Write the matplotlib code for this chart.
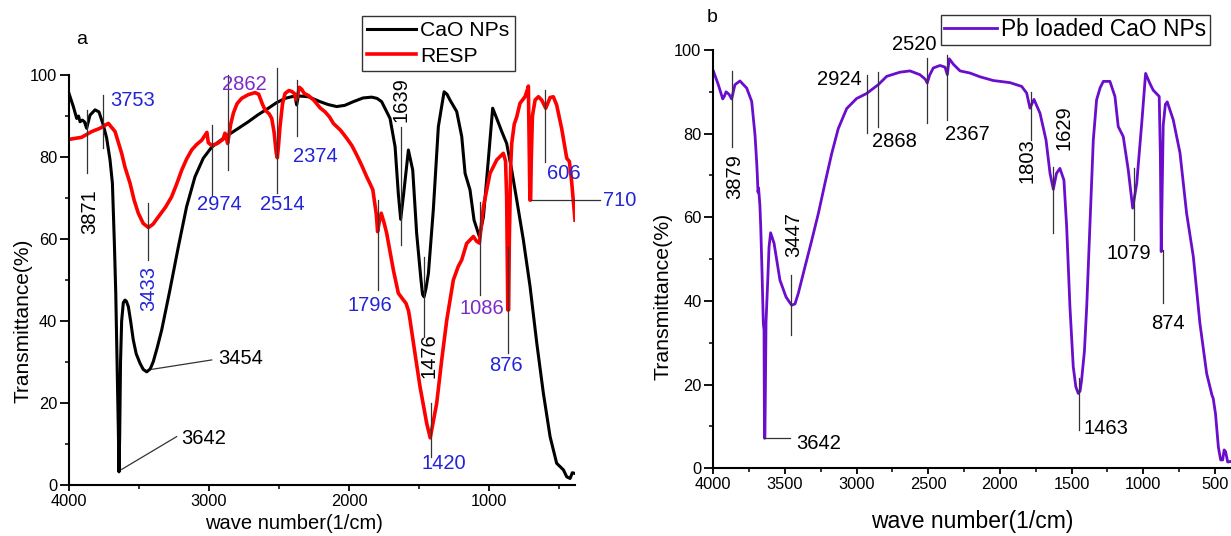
import matplotlib
matplotlib.use("Agg")
import matplotlib.pyplot as plt
from matplotlib.ticker import MultipleLocator, FixedLocator

plt.rcParams['font.family'] = ['Liberation Sans', 'DejaVu Sans']

# ---------------- data: panel a ----------------
w_cao = [4000, 3969, 3945, 3932, 3921, 3905, 3890, 3874, 3850, 3814, 3786, 3755, 3731, 3707,
         3690, 3676, 3666, 3657, 3648, 3643, 3638, 3632, 3624, 3612, 3600, 3590, 3576, 3560,
         3541, 3520, 3493, 3470, 3445, 3420, 3398, 3370, 3338, 3279, 3219, 3160, 3100, 3041,
         2981, 2920, 2862, 2790, 2719, 2650, 2576, 2520, 2457, 2386, 2374, 2362, 2290, 2207,
         2150, 2088, 2030, 1969, 1900, 1838, 1800, 1767, 1707, 1671, 1648, 1631, 1610, 1576,
         1545, 1517, 1486, 1475, 1464, 1450, 1433, 1398, 1362, 1340, 1321, 1300, 1279, 1231,
         1195, 1171, 1136, 1107, 1069, 1040, 1005, 974, 945, 909, 874, 838, 802, 755, 707, 659,
         612, 564, 517, 469, 445, 421, 405, 386]
t_cao = [95.5, 92.3, 89.4, 90.0, 88.6, 89.0, 88.6, 87.0, 90.2, 91.5, 91.0, 87.8, 84.6, 79.3,
         73.6, 59.0, 46.8, 30.5, 14.2, 3.2, 12.0, 30.0, 40.0, 44.5, 45.1, 44.8, 43.5, 40.0,
         35.4, 32.0, 29.7, 28.2, 27.6, 28.3, 30.1, 33.5, 37.8, 47.6, 58.1, 67.9, 75.2, 79.7,
         82.4, 84.0, 85.4, 87.0, 88.6, 90.3, 91.9, 93.2, 94.3, 94.9, 92.7, 94.9, 94.7, 93.5,
         92.8, 92.3, 92.6, 93.5, 94.4, 94.6, 94.3, 93.5, 89.4, 82.5, 71.1, 64.8, 71.0, 81.7,
         76.8, 61.4, 50.0, 46.5, 45.9, 48.0, 51.6, 67.1, 87.4, 92.0, 95.9, 95.3, 93.9, 91.1,
         85.0, 76.0, 72.0, 64.6, 60.6, 65.4, 79.3, 91.9, 89.4, 86.2, 83.3, 76.8, 69.5, 59.8, 48.4, 34.6,
         22.4, 11.8, 5.3, 3.7, 2.0, 1.6, 3.0, 2.8]

w_resp = [4000, 3910, 3838, 3779, 3719, 3671, 3624, 3600, 3564, 3535, 3505, 3470, 3433, 3400,
          3362, 3310, 3267, 3230, 3195, 3160, 3124, 3090, 3052, 3015, 3005, 2981, 2940, 2900,
          2886, 2875, 2867, 2845, 2826, 2800, 2767, 2720, 2671, 2645, 2620, 2600, 2570, 2552,
          2535, 2520, 2512, 2503, 2493, 2475, 2457, 2430, 2410, 2390, 2380, 2370, 2355, 2338,
          2320, 2290, 2250, 2207, 2171, 2140, 2112, 2060, 2017, 1980, 1945, 1910, 1874, 1850,
          1830, 1805, 1796, 1785, 1770, 1750, 1731, 1683, 1648, 1620, 1593, 1575, 1564, 1529,
          1493, 1445, 1420, 1374, 1338, 1302, 1255, 1220, 1195, 1160, 1112, 1090, 1069, 1040,
          993, 945, 898, 882, 874, 866, 860, 855, 845, 838, 820, 802, 779, 743, 725, 719, 714,
          708, 703, 698, 690, 671, 647, 624, 595, 564, 541, 517, 481, 445, 426, 410, 386]
t_resp = [84.3, 84.8, 86.2, 87.0, 88.2, 86.2, 80.9, 77.5, 73.6, 69.5, 66.3, 63.8, 62.8, 63.6,
          65.4, 67.8, 70.3, 73.5, 76.8, 79.5, 81.7, 83.0, 84.1, 86.0, 83.5, 82.8, 83.3, 84.3,
          85.8, 84.5, 83.3, 88.0, 90.7, 93.0, 94.3, 95.2, 95.7, 95.3, 93.0, 91.5, 90.5, 89.4,
          86.0, 81.0, 79.8, 83.0, 87.4, 93.0, 95.5, 96.2, 96.0, 95.5, 94.0, 94.5, 97.0, 96.5,
          95.5, 95.0, 93.8, 92.0, 91.0, 89.8, 88.2, 86.5, 84.6, 82.8, 80.5, 78.0, 75.2, 73.5,
          72.0, 66.0, 61.8, 64.0, 66.3, 64.0, 61.4, 52.4, 46.8, 45.5, 44.3, 42.5, 40.2, 32.1,
          24.0, 15.0, 11.5, 19.9, 30.5, 40.2, 50.0, 53.3, 54.9, 58.9, 60.6, 59.5, 59.0, 67.9,
          76.0, 79.3, 80.9, 79.0, 70.0, 42.7, 42.7, 60.0, 78.0, 83.3, 88.0, 89.8, 93.1, 94.7, 96.5, 97.3,
          85.0, 69.5, 69.5, 80.0, 90.0, 93.9, 94.7, 93.9, 91.9, 94.5, 94.7, 92.7, 86.9, 79.7,
          78.9, 74.0, 64.6]

# ---------------- data: panel b ----------------
w_pb = [4000, 3965, 3934, 3922, 3911, 3890, 3872, 3849, 3814, 3767, 3732, 3709, 3697, 3693,
        3688, 3684, 3675, 3669, 3660, 3651, 3646, 3643, 3640, 3637, 3632, 3620, 3611, 3600,
        3576, 3535, 3493, 3470, 3453, 3430, 3407, 3360, 3313, 3267, 3221, 3174, 3128, 3069,
        3000, 2930, 2884, 2849, 2790, 2697, 2627, 2558, 2520, 2507, 2490, 2465, 2418, 2383,
        2367, 2353, 2325, 2278, 2209, 2139, 2046, 1930, 1848, 1813, 1790, 1762, 1720, 1678,
        1650, 1627, 1605, 1581, 1553, 1534, 1511, 1488, 1470, 1453, 1440, 1430, 1410, 1394,
        1371, 1348, 1325, 1300, 1278, 1232, 1197, 1174, 1139, 1104, 1073, 1045, 1010, 983, 953,
        930, 888, 880, 874, 868, 860, 845, 832, 790, 743, 697, 650, 604, 557, 520, 511, 495,
        475, 459, 445, 435, 425, 410, 394]
t_pb = [95.0, 91.7, 88.3, 89.0, 90.0, 89.4, 88.3, 91.7, 92.6, 90.9, 87.7, 79.7, 73.0, 70.2,
        66.0, 67.0, 63.0, 57.8, 47.0, 34.7, 33.0, 7.2, 7.2, 17.0, 35.0, 45.0, 52.9, 56.3,
        53.8, 45.0, 41.0, 39.8, 39.0, 39.3, 41.8, 48.2, 54.5, 60.9, 68.1, 75.2, 81.2, 86.0,
        88.4, 89.6, 90.8, 91.7, 93.7, 94.7, 95.0, 94.1, 93.0, 92.1, 94.0, 95.7, 96.3, 95.9,
        94.1, 97.9, 96.6, 95.0, 94.5, 93.6, 92.7, 92.2, 91.3, 89.7, 86.1, 88.2, 84.9, 78.5,
        70.5, 66.7, 70.5, 71.7, 68.9, 57.8, 38.6, 24.3, 19.5, 17.9, 18.5, 21.0, 28.0, 38.6,
        58.6, 78.5, 88.1, 91.0, 92.5, 92.5, 88.9, 81.7, 79.3, 71.3, 62.2, 68.1, 82.5, 94.4, 92.0,
        90.4, 88.9, 75.0, 51.8, 65.0, 82.0, 87.0, 87.6, 83.3, 75.4, 61.0, 50.6, 34.7, 22.7, 17.5, 16.7, 13.0,
        5.0, 2.0, 2.0, 4.4, 4.0, 1.5, 1.6]

# peak labels: (wavenumber, T) anchor, text, rotation, colour, ha
BLUE = '#2424D6'
PURP = '#7B2BC9'
labels_a = [
    (3850, 66.7, '3871', 90, 'black', 'center'),
    (3707, 93.9, '3753', 0, BLUE, 'left'),
    (3434, 48.0, '3433', 90, BLUE, 'center'),
    (2934, 30.9, '3454', 0, 'black', 'left'),
    (3201, 11.4, '3642', 0, 'black', 'left'),
    (2929, 68.3, '2974', 0, BLUE, 'center'),
    (2745, 97.8, '2862', 0, PURP, 'center'),
    (2479, 68.3, '2514', 0, BLUE, 'center'),
    (2400, 80.0, '2374', 0, BLUE, 'left'),
    (1630, 93.9, '1639', 90, 'black', 'center'),
    (1850, 43.9, '1796', 0, BLUE, 'center'),
    (1428, 31.5, '1476', 90, 'black', 'center'),
    (1322, 5.3, '1420', 0, BLUE, 'center'),
    (1052, 43.1, '1086', 0, PURP, 'center'),
    (880, 29.1, '876', 0, BLUE, 'center'),
    (464, 75.9, '606', 0, BLUE, 'center'),
    (186, 69.5, '710', 0, BLUE, 'left'),
]
# marker segments (x0, y0, x1, y1)
marks_a = [
    (3869, 91.5, 3869, 76.0), (3755, 95.1, 3755, 82.1), (3438, 68.7, 3438, 54.9),
    (2981, 87.8, 2981, 70.7), (2867, 100.0, 2867, 76.8), (2514, 101.6, 2514, 71.1),
    (2374, 98.8, 2374, 85.0), (1629, 87.4, 1629, 58.5), (1790, 69.5, 1790, 47.6),
    (1464, 55.7, 1464, 36.2), (1414, 19.9, 1414, 6.9), (1064, 69.1, 1064, 46.3),
    (862, 58.1, 862, 32.1), (600, 96.3, 600, 78.9), (702, 69.5, 207, 69.5),
    (3624, 3.8, 3231, 11.8), (3410, 28.2, 2981, 30.5),
]
labels_b = [
    (3851, 69.7, '3879', 90, 'center'),
    (3423, 6.0, '3642', 0, 'left'),
    (3442, 55.8, '3447', 90, 'center'),
    (3123, 93.0, '2924', 0, 'center'),
    (2736, 78.1, '2868', 0, 'center'),
    (2596, 101.2, '2520', 0, 'center'),
    (2228, 79.9, '2367', 0, 'center'),
    (1811, 73.5, '1803', 90, 'center'),
    (1554, 81.5, '1629', 90, 'center'),
    (1413, 9.4, '1463', 0, 'left'),
    (1097, 51.4, '1079', 0, 'center'),
    (830, 34.7, '874', 0, 'center'),
]
marks_b = [
    (3872, 95.0, 3872, 76.9), (3460, 46.2, 3460, 31.9), (2930, 94.0, 2930, 80.1),
    (2853, 94.8, 2853, 81.7), (2507, 98.0, 2507, 82.5), (2367, 98.8, 2367, 83.3),
    (1785, 90.0, 1785, 78.5), (1627, 72.1, 1627, 56.3), (1446, 21.5, 1446, 9.2),
    (1064, 71.7, 1064, 54.6), (864, 52.2, 864, 39.4), (3646, 7.2, 3465, 7.2),
]

W, H = 1231, 536
fig = plt.figure(figsize=(W / 100, H / 100), dpi=100)


def style(ax, xmaj, xmin, xlim):
    ax.set_xlim(*xlim)
    ax.set_ylim(0, 100)
    for s in ('top', 'right'):
        ax.spines[s].set_visible(False)
    for s in ('left', 'bottom'):
        ax.spines[s].set_linewidth(1.5)
    ax.xaxis.set_major_locator(xmaj)
    ax.xaxis.set_minor_locator(xmin)
    ax.yaxis.set_major_locator(MultipleLocator(20))
    ax.yaxis.set_minor_locator(MultipleLocator(10))
    ax.tick_params(which='major', direction='out', width=1.3, labelsize=11.8, pad=2)
    ax.tick_params(axis='y', which='major', length=6.5)
    ax.tick_params(axis='x', which='major', length=4.5)
    ax.tick_params(which='minor', direction='out', length=3.2, width=1.1)
    ax.patch.set_alpha(0)


# ---------- panel a ----------
axa = fig.add_axes([69 / W, 1 - 485 / H, (575 - 69) / W, (485 - 75) / H])
style(axa, FixedLocator([4000, 3000, 2000, 1000]), FixedLocator([3500, 2500, 1500, 500]), (4000, 386))
la, = axa.plot(w_cao, t_cao, color='black', lw=2.2, label='CaO NPs', solid_joinstyle='round')
lr, = axa.plot(w_resp, t_resp, color='#FF0000', lw=2.6, label='RESP', solid_joinstyle='round')
for x0, y0, x1, y1 in marks_a:
    axa.plot([x0, x1], [y0, y1], color='#333333', lw=0.9, clip_on=False)
for x, y, s, r, c, ha in labels_a:
    axa.text(x, y, s, rotation=r, color=c, ha=ha, va='center', fontsize=14.5, clip_on=False)
axa.set_ylabel('Transmittance(%)', fontsize=15, va='center')
axa.yaxis.set_label_coords(-0.09, 0.40)
axa.set_xlabel('wave number(1/cm)', fontsize=14.5, va='center')
axa.xaxis.set_label_coords(0.445, -0.094)
fig.text(82 / W, 1 - 39 / H, 'a', fontsize=14, ha='center', va='center')
lga = fig.legend(handles=[la, lr], loc='upper left', bbox_to_anchor=(362 / W, 1 - 16 / H),
                 frameon=True, fancybox=False, edgecolor='black', fontsize=15.2,
                 handlelength=2.3, handletextpad=0.2, borderpad=0.25, labelspacing=0.3,
                 borderaxespad=0)
lga.get_frame().set_linewidth(1.0)

# ---------- panel b ----------
axb = fig.add_axes([713.3 / W, 1 - 468.3 / H, (1231 - 713.3) / W, (468.3 - 50) / H])
style(axb, MultipleLocator(500), MultipleLocator(250), (4000, 387))
lb, = axb.plot(w_pb, t_pb, color='#6A0DCC', lw=2.0, label='Pb loaded CaO NPs', solid_joinstyle='round')
for x0, y0, x1, y1 in marks_b:
    axb.plot([x0, x1], [y0, y1], color='#333333', lw=0.9, clip_on=False)
for x, y, s, r, ha in labels_b:
    axb.text(x, y, s, rotation=r, color='black', ha=ha, va='center', fontsize=14.5, clip_on=False)
axb.set_ylabel('Transmittance(%)', fontsize=15.3, va='center')
axb.yaxis.set_label_coords(-0.097, 0.41)
axb.set_xlabel('wave number(1/cm)', fontsize=16.5, va='center')
axb.xaxis.set_label_coords(0.5, -0.126)
fig.text(712 / W, 1 - 17 / H, 'b', fontsize=14, ha='center', va='center')
lgb = fig.legend(handles=[lb], loc='upper left', bbox_to_anchor=(941 / W, 1 - 15 / H),
                 frameon=True, fancybox=False, edgecolor='black', fontsize=16.4,
                 handlelength=2.3, handletextpad=0.2, borderpad=0.15, borderaxespad=0)
lgb.get_frame().set_linewidth(1.0)

fig.savefig('out.png', dpi=100)
